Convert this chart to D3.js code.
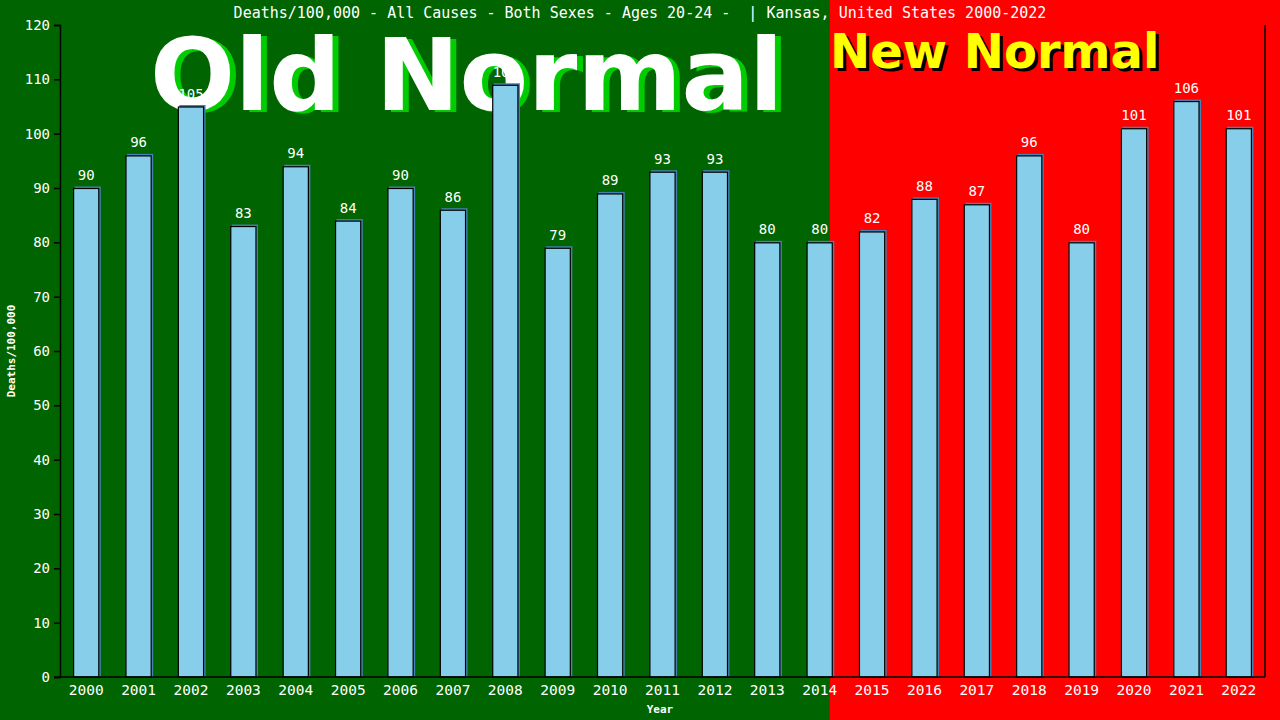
<!DOCTYPE html>
<html><head><meta charset="utf-8">
<script src="https://cdn.jsdelivr.net/npm/d3@7"></script>
<style>html,body{margin:0;padding:0;background:#006400;}svg{display:block;}</style>
</head><body>
<svg id="c" width="1280" height="720"></svg>
<script>
const years = ["2000","2001","2002","2003","2004","2005","2006","2007","2008","2009","2010","2011","2012","2013","2014","2015","2016","2017","2018","2019","2020","2021","2022"];
const values = [90,96,105,83,94,84,90,86,109,79,89,93,93,80,80,82,88,87,96,80,101,106,101];
const yTicks = [0,10,20,30,40,50,60,70,80,90,100,110,120];
const title = "Deaths/100,000 - All Causes - Both Sexes - Ages 20-24 -  | Kansas, United States 2000-2022";
const splitYear = "2014";

const W = 1280, H = 720;
const m = {left:60, right:15, top:25, bottom:43};
const svg = d3.select("#c");
const mono = "'DejaVu Sans Mono', 'Liberation Mono', monospace";
const sans = "'DejaVu Sans', Verdana, sans-serif";

const x = d3.scaleBand().domain(years).range([m.left, W - m.right]).paddingInner(0.5).paddingOuter(0.25);
const y = d3.scaleLinear().domain([0,120]).range([H - m.bottom, m.top]);

// backgrounds
const splitX = x(splitYear) + x.bandwidth() - 3;
svg.append("rect").attr("x",0).attr("y",0).attr("width",splitX).attr("height",H).attr("fill","#006400");
svg.append("rect").attr("x",splitX).attr("y",0).attr("width",W-splitX).attr("height",H).attr("fill","#ff0000");

// title
svg.append("text").attr("x",640).attr("y",18).attr("text-anchor","middle")
  .attr("fill","#fff").style("font-family",mono).style("font-size","15px").attr("xml:space","preserve").text(title);

// overlays (behind bars)
svg.append("text").attr("x",156).attr("y",112).attr("fill","#00cc00")
  .style("font-family",sans).style("font-weight","bold").style("font-size","100px").text("Old Normal");
svg.append("text").attr("x",150).attr("y",110).attr("fill","#fff")
  .style("font-family",sans).style("font-weight","bold").style("font-size","100px").text("Old Normal");
svg.append("text").attr("x",833).attr("y",71).attr("fill","#000")
  .style("font-family",sans).style("font-weight","bold").style("font-size","48px").text("New Normal");
svg.append("text").attr("x",830).attr("y",68).attr("fill","#ffff00")
  .style("font-family",sans).style("font-weight","bold").style("font-size","48px").text("New Normal");

// bars
const g = svg.append("g");
g.selectAll("rect.sh").data(values).join("rect").attr("class","sh")
  .attr("x",(d,i)=>x(years[i])+1.5).attr("y",d=>y(d)-1.5)
  .attr("width",x.bandwidth()).attr("height",d=>y(0)-y(d)+1.5)
  .attr("fill","#4682b4");
g.selectAll("rect.b").data(values).join("rect").attr("class","b")
  .attr("x",(d,i)=>x(years[i])+0.5).attr("y",d=>y(d)+0.5)
  .attr("width",x.bandwidth()-1).attr("height",d=>y(0)-y(d)-0.5)
  .attr("fill","#87ceeb").attr("stroke","#000").attr("stroke-width",1.2);

// value labels
g.selectAll("text.v").data(values).join("text").attr("class","v")
  .attr("x",(d,i)=>x(years[i])+x.bandwidth()/2).attr("y",d=>y(d)-8)
  .attr("text-anchor","middle").attr("fill","#fff")
  .style("font-family",mono).style("font-size","14px").text(d=>d);

// y axis
const yA = svg.append("g").attr("transform",`translate(${m.left},0)`)
  .call(d3.axisLeft(y).tickValues(yTicks).tickSize(6).tickPadding(4));
yA.select(".domain").attr("stroke","#000").attr("stroke-width",1.5);
yA.selectAll(".tick line").attr("stroke","#000").attr("stroke-width",1.5);
yA.selectAll(".tick text").attr("fill","#fff").style("font-family",mono).style("font-size","14px");

// x axis
const xA = svg.append("g").attr("transform",`translate(0,${y(0)})`)
  .call(d3.axisBottom(x).tickSize(0).tickPadding(8));
xA.select(".domain").attr("d",`M${m.left-6},0H${W-m.right}`).attr("stroke","#000").attr("stroke-width",1.5);
xA.selectAll(".tick text").attr("fill","#fff").style("font-family",mono).style("font-size","14.5px");

// right border
svg.append("line").attr("x1",W-m.right).attr("x2",W-m.right).attr("y1",m.top).attr("y2",y(0))
  .attr("stroke","#000").attr("stroke-width",1.5);

// axis titles
svg.append("text").attr("x",660).attr("y",713).attr("text-anchor","middle").attr("fill","#fff")
  .style("font-family",mono).style("font-size","11px").style("font-weight","bold").text("Year");
svg.append("text").attr("transform","translate(15,351) rotate(-90)").attr("text-anchor","middle").attr("fill","#fff")
  .style("font-family",mono).style("font-size","11px").style("font-weight","bold").text("Deaths/100,000");
</script>
</body></html>
